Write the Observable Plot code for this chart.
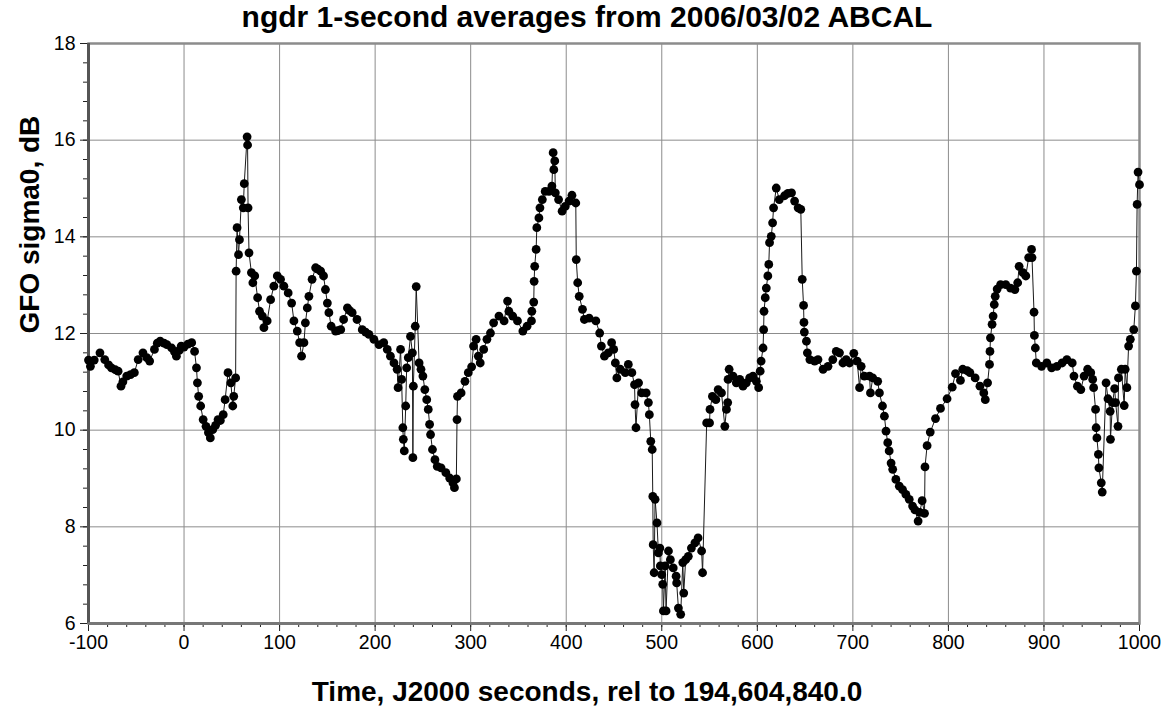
<!DOCTYPE html>
<html><head><meta charset="utf-8">
<script src="https://cdn.jsdelivr.net/npm/d3@7"></script>
<script src="https://cdn.jsdelivr.net/npm/@observablehq/plot@0.6"></script>
<style>body{margin:0;background:#fff} #chart svg{display:block}</style>
</head><body><div id="chart"></div>
<script>
const times = [
-100,-98,-94,-88,-83,-79,-76,-72,-69,-66,-64,-60,-56,-52,-48,-43,-39,-36,-31,-28,-25,-21,-18,-13,-10,-8,-5,-3,0,4,8,11,13,14,15.3,17.4,20,23,25.5,27.5,30,33,35.6,38,41,43,46,49,51,52,54,54.5,55.5,57,58,60,62,63,66,66.5,67,68,70.5,72,74,77,79,82,83.6,87,90.6,94,97.6,101,104.5,109,112.6,115,118.5,121,123,125.5,127,129,130.7,134,137.7,140,143,146,148,150,151.6,154,158.6,161,164,167,171,173,176,181,186.5,190,193.5,198.7,204,209,212.7,216,219.7,223,224,226.6,227.7,229,229.5,230.5,232,233,234.7,237,239,239.5,240,242,243,246,248,250,252,254,255.6,257,258,260,262.6,265,269,274,278,281.4,283,285,285.7,286.2,290,294,297.5,301,303,305.7,308,310,313.6,317,320.7,324,329.6,335,338.6,340,344,349,354.6,359,363.6,364,366,366.4,367,368.5,369.2,371.4,372.5,375,378,382,385,386.3,387,388,388.6,392,395.7,399,403,406,410,410.5,412,413.6,417,419,424,431,435,436.8,440,444,447.5,449.7,451.4,453,456.6,461.8,465,468.7,471.5,472,473,475.7,479,483.7,486,487,488.5,490,490.6,491,492,493,495,496.5,498,498.5,500,501,501.7,503.5,504.5,507,509,512,515,515.6,517.4,519.8,522,523,525,527.8,531,534.7,538,541.7,542.7,547,550,550.5,553,556.6,559,562.5,566,567.7,569,569.4,570.5,574.6,578,581.6,585,588.5,592,595.5,599,601.4,603,604,606,606.6,607,608.3,609.4,611,612,612.8,614.6,616,617,619.8,623,628.5,632,635.8,639,642.7,645.5,647,648.4,648.8,649.2,651.4,652.4,655,660,663.5,668.8,674,679,682.6,686,689.6,693,696.5,701,704.5,707,708.7,712,717.4,718.4,720.8,726,727.8,731,733,734.7,736.5,738,740,741.7,745,748.6,752,755.5,759,762.5,765,768.3,770,772.5,775,775.5,777.7,781,786.5,791.7,798.6,804,807.4,812.6,815,819.6,822.5,828,833,837,838.6,841,843,843.5,844,845.7,846.8,848,849,851,854.6,860,865,869.6,872.5,874,878,881,884,887,887.5,889.6,890,891,892,897.5,903,908,913.6,919,924,929.6,931.4,935,938.6,942,945.7,949,951,952,954,954.6,955.4,957,957.5,960,961,965,967,969.3,969.6,971.8,974,975,977.5,978,981,984,985,986.8,988.6,990.4,994,995.7,996.8,997.5,998.5,1000
];
const sigma0 = [
11.45,11.32,11.45,11.6,11.46,11.35,11.29,11.25,11.22,10.91,11.0,11.12,11.15,11.19,11.46,11.6,11.5,11.43,11.67,11.8,11.84,11.8,11.77,11.7,11.62,11.53,11.65,11.74,11.72,11.78,11.81,11.63,11.29,10.98,10.7,10.5,10.22,10.08,9.95,9.84,10.01,10.1,10.22,10.2,10.32,10.63,11.19,10.98,10.5,10.7,11.08,13.29,14.19,13.63,13.94,14.77,14.6,15.1,16.07,15.9,14.6,13.67,13.26,13.05,13.19,12.74,12.46,12.36,12.12,12.26,12.7,12.98,13.19,13.12,12.98,12.84,12.63,12.26,12.05,11.81,11.53,11.81,12.22,12.53,12.77,13.12,13.36,13.33,13.29,13.19,12.91,12.63,12.43,12.15,12.05,12.06,12.08,12.29,12.53,12.48,12.43,12.29,12.08,12.03,11.98,11.88,11.77,11.81,11.67,11.53,11.39,11.26,10.88,11.67,11.05,10.05,9.81,9.57,10.5,11.29,11.5,11.94,11.6,9.43,10.91,12.15,12.97,11.39,11.26,11.12,10.84,10.63,10.43,10.12,9.91,9.6,9.39,9.25,9.22,9.12,9.01,8.91,8.81,8.99,10.22,10.7,10.77,11.01,11.19,11.31,11.74,11.88,11.53,11.39,11.67,11.88,12.01,12.22,12.36,12.26,12.67,12.46,12.36,12.26,12.05,12.15,12.26,12.46,12.65,13.08,13.39,13.74,14.19,14.39,14.6,14.77,14.94,14.94,15.05,15.74,15.39,15.57,14.91,14.77,14.53,14.63,14.74,14.86,14.7,13.53,13.05,12.77,12.5,12.29,12.32,12.26,12.01,11.74,11.53,11.6,11.81,11.67,11.39,11.08,11.26,11.19,11.36,11.19,10.94,10.53,10.05,10.98,10.77,10.77,10.57,10.32,9.77,9.6,8.63,7.63,7.05,8.57,8.08,7.46,7.56,7.19,7.01,6.81,6.26,7.19,6.26,7.5,7.32,7.15,6.98,6.84,6.32,6.19,7.26,6.63,7.32,7.39,7.56,7.67,7.77,7.5,7.05,10.15,10.15,10.43,10.7,10.63,10.84,10.77,10.08,10.43,10.57,11.05,11.26,11.12,10.98,11.05,10.91,10.98,11.08,11.12,11.01,10.88,11.22,11.43,11.7,12.08,12.46,12.74,12.94,13.19,13.43,13.88,14.01,14.29,14.6,15.01,14.77,14.85,14.9,14.91,14.74,14.6,14.57,13.12,12.58,12.23,12.03,11.84,11.6,11.46,11.43,11.46,11.26,11.32,11.46,11.63,11.6,11.39,11.46,11.39,11.59,11.43,10.88,11.32,11.12,11.12,10.77,11.08,11.01,10.77,10.5,10.29,9.98,9.74,9.57,9.32,9.19,8.98,8.84,8.77,8.67,8.57,8.43,8.35,8.12,8.3,8.54,8.28,9.24,9.68,9.96,10.24,10.45,10.65,10.89,11.17,11.03,11.26,11.23,11.19,11.08,10.91,10.77,10.63,10.98,11.36,11.63,11.91,12.19,12.36,12.6,12.77,12.92,13.01,13.01,12.94,12.91,13.05,13.39,13.26,13.19,13.57,13.74,13.57,12.44,11.96,11.7,11.39,11.32,11.39,11.29,11.32,11.39,11.46,11.39,11.12,10.91,10.84,11.12,11.26,11.19,11.05,10.88,10.43,10.05,9.84,9.5,9.22,8.91,8.72,10.98,10.65,10.39,9.81,10.57,10.86,10.57,10.08,11.08,11.26,10.51,11.26,10.88,11.74,11.88,12.08,12.57,13.29,14.67,15.34,15.08
];
const xTicks = [-100,0,100,200,300,400,500,600,700,800,900,1000];
const yTicks = [6,8,10,12,14,16,18];
const titleText = "ngdr 1-second averages from 2006/03/02 ABCAL";
const xLabel = "Time, J2000 seconds, rel to 194,604,840.0";
const yLabel = "GFO sigma0, dB";

const data = times.map((t, i) => ({t, v: sigma0[i]}));
const font = "'Liberation Sans', Arial, sans-serif";
const xMinor = d3.range(-100, 1001, 20);
const yMinor = d3.range(0, 31).map(i => 6 + i * 0.4);

const chart = Plot.plot({
  width: 1172, height: 710,
  marginLeft: 88, marginRight: 33, marginTop: 43, marginBottom: 87,
  style: {fontFamily: font, background: "#fff", color: "#000"},
  x: {domain: [-100, 1000]},
  y: {domain: [6, 18]},
  marks: [
    Plot.gridX(xTicks, {stroke: "#8c8c8c", strokeOpacity: 1, strokeWidth: 1}),
    Plot.gridY(yTicks, {stroke: "#8c8c8c", strokeOpacity: 1, strokeWidth: 1}),
    Plot.axisX(xMinor, {tickSize: 4, text: null, label: null, stroke: "#222"}),
    Plot.axisX(xTicks, {tickSize: 8, tickPadding: 4, fontSize: 19.5, label: null, stroke: "#222", tickFormat: d => String(d)}),
    Plot.axisY(yMinor, {tickSize: 5, text: null, label: null, stroke: "#222"}),
    Plot.axisY(yTicks, {tickSize: 8, tickPadding: 5, fontSize: 19.5, label: null, stroke: "#222", tickFormat: d => String(d)}),
    Plot.frame({stroke: "#8c8c8c", strokeWidth: 2.5}),
    Plot.ruleX([-100], {stroke: "#555", strokeWidth: 3}),
    Plot.ruleY([6], {stroke: "#777", strokeWidth: 3}),
    Plot.line(data, {x: "t", y: "v", stroke: "#1a1a1a", strokeWidth: 1}),
    Plot.dot(data, {x: "t", y: "v", r: 4.4, fill: "#000", stroke: null}),
    Plot.text([titleText], {frameAnchor: "top", lineAnchor: "middle", dy: -26, dx: -27, fontSize: 30, fontWeight: "bold", fill: "#000"}),
    Plot.text([xLabel], {frameAnchor: "bottom", lineAnchor: "middle", dy: 69, dx: -27, fontSize: 28, fontWeight: "bold", fill: "#000"}),
    Plot.text([yLabel], {frameAnchor: "left", lineAnchor: "middle", rotate: -90, dx: -58, fontSize: 28, fontWeight: "bold", fill: "#000"})
  ]
});
document.getElementById("chart").appendChild(chart);
</script>
</body></html>
